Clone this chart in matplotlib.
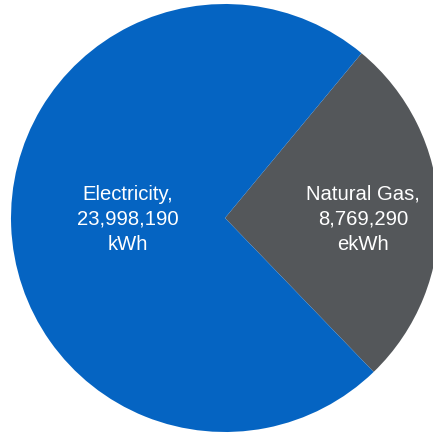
import matplotlib.pyplot as plt

# Datos de energía
fuentes = ['Natural Gas', 'Electricity']
valores = [8769290, 23998190]
unidades = ['ekWh', 'kWh']
colores = ['#54575A', '#0564C2']

fig = plt.figure(figsize=(4.33, 4.34), dpi=100)
# Eje colocado para que el círculo quede algo recortado arriba y a la derecha
ax = fig.add_axes([11 / 433, 2 / 434, 428 / 433, 428 / 434])

ax.pie(valores, colors=colores, startangle=-46, counterclock=True,
       wedgeprops=dict(linewidth=0))
ax.set_xlim(-1, 1)
ax.set_ylim(-1, 1)
ax.set_aspect('auto')
ax.axis('off')

# Etiquetas dentro de cada sector
pos_etiquetas = [(0.645, -0.005), (-0.453, -0.005)]
for nombre, v, u, (x, y) in zip(fuentes, valores, unidades, pos_etiquetas):
    ax.text(x, y, f"{nombre},\n{v:,}\n{u}", ha='center', va='center',
            color='white', fontsize=14.6, family='Liberation Sans',
            linespacing=1.4)

fig.savefig('out.png', dpi=100)
